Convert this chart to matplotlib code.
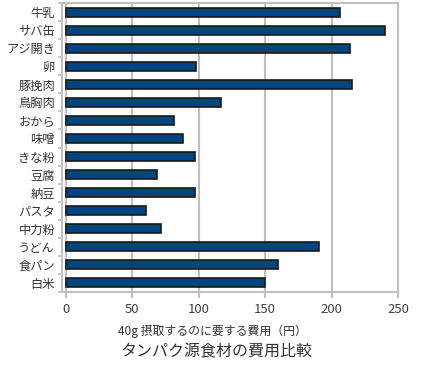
import matplotlib
matplotlib.use("Agg")
import matplotlib.pyplot as plt
import numpy as np

plt.rcParams['font.family'] = ['Noto Sans CJK JP', 'DejaVu Sans']

categories = ["牛乳", "サバ缶", "アジ開き", "卵", "豚挽肉", "鳥胸肉", "おから", "味噌",
              "きな粉", "豆腐", "納豆", "パスタ", "中力粉", "うどん", "食パン", "白米"]
values = [206, 240, 214, 98, 215, 116.5, 81, 88, 97, 68.5, 97, 60, 71.5, 190.5, 160, 150]
xticks = [0, 50, 100, 150, 200, 250]

fig = plt.figure(figsize=(4.26, 3.66), dpi=100)
ax = fig.add_axes([62/426, 1-292/366, (398-62)/426, (292-3)/366])

y = np.arange(len(categories))[::-1]
grid_c = '#c0c0c0'
ax.set_xlim(-3, 250)
ax.set_ylim(-0.5, len(categories) - 0.5)
for xv in xticks:
    ax.axvline(xv, color=grid_c, lw=1.5, zorder=0)
ax.barh(y, values, height=0.5, color='#00457f', edgecolor='#1a1a1a', linewidth=1.2, zorder=3)

ax.set_yticks(y)
ax.set_yticklabels(categories, fontsize=8.8, color='#333333')
ax.set_yticks(np.arange(-0.5, len(categories)), minor=True)
ax.tick_params(axis='y', which='major', length=0, pad=5)
ax.tick_params(axis='y', which='minor', length=3, color=grid_c, width=1.2)
ax.set_xticks(xticks)
ax.set_xticklabels([str(v) for v in xticks], fontsize=9.5, color='#404040')
ax.tick_params(axis='x', length=4, color=grid_c, width=1.5, pad=4)

for s in ax.spines.values():
    s.set_color(grid_c)
    s.set_linewidth(1.5)

fig.text(212/426, 1-331/366, "40g 摂取するのに要する費用（円）", fontsize=8.6, color='#333333',
         ha='center', va='center')
fig.text(217/426, 1-352/366, "タンパク源食材の費用比較", fontsize=11.5, color='#333333',
         ha='center', va='center')

fig.savefig("out.png", dpi=100)
